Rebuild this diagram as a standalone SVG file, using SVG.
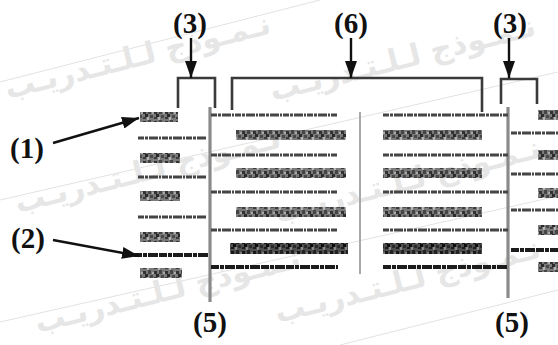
<svg xmlns="http://www.w3.org/2000/svg" width="558" height="345" viewBox="0 0 558 345">
<style>
.wm{font-family:"DejaVu Sans",sans-serif;font-weight:bold;font-size:30px;fill:#e6e6e6;text-anchor:middle}
.wl{stroke:#e2e2e2;stroke-width:1;fill:none}
.lbl{font-family:"Liberation Serif","Times New Roman",serif;font-weight:bold;font-size:29px;fill:#111;text-anchor:middle}
.br{fill:none;stroke:#3a3a3a;stroke-width:2.6}
.ar{stroke:#111;stroke-width:2.4;fill:none}
.vl{stroke:#8a8a8a;stroke-width:3.2}
.dv{stroke:#a8a8a8;stroke-width:2}
.tl{stroke:#444;stroke-width:3.2;stroke-dasharray:6 1 3 1 9 1 2 1}
.tk{stroke:#1e1e1e;stroke-width:4.2;stroke-dasharray:8 1 4 1 10 1}
.bl{fill:url(#mot)}
.bd{fill:url(#mot2)}
</style>
<defs>
<marker id="ah" viewBox="0 0 17 12" refX="17" refY="6" markerWidth="17" markerHeight="12" markerUnits="userSpaceOnUse" orient="auto">
<path d="M0,0 L17,6 L0,12 Z" fill="#111"/>
</marker>
<pattern id="mot" width="11" height="10" patternUnits="userSpaceOnUse">
<rect width="11" height="10" fill="#7a7a7a"/>
<rect x="0" y="1" width="3" height="3" fill="#333"/>
<rect x="5" y="0" width="3" height="4" fill="#444"/>
<rect x="2" y="4" width="3" height="3" fill="#2a2a2a"/>
<rect x="7" y="5" width="3" height="3" fill="#4a4a4a"/>
<rect x="4" y="7" width="2" height="3" fill="#b4b4b4"/>
<rect x="9" y="2" width="2" height="2" fill="#aaa"/>
<rect x="0" y="7" width="3" height="2" fill="#3c3c3c"/>
</pattern>
<pattern id="mot2" width="11" height="10" patternUnits="userSpaceOnUse">
<rect width="11" height="10" fill="#505050"/>
<rect x="0" y="1" width="3" height="3" fill="#151515"/>
<rect x="5" y="0" width="3" height="4" fill="#222"/>
<rect x="2" y="4" width="3" height="3" fill="#111"/>
<rect x="7" y="5" width="3" height="3" fill="#2a2a2a"/>
<rect x="4" y="7" width="2" height="3" fill="#888"/>
<rect x="9" y="2" width="2" height="2" fill="#7a7a7a"/>
<rect x="0" y="7" width="3" height="2" fill="#1a1a1a"/>
</pattern>
<filter id="soft" x="-5%" y="-5%" width="110%" height="110%">
<feGaussianBlur stdDeviation="0.7"/>
</filter>
</defs>
<rect width="558" height="345" fill="#ffffff"/>
<g id="watermark">
<line class="wl" x1="0" y1="82" x2="320" y2="0"/>
<line class="wl" x1="0" y1="200" x2="558" y2="72"/>
<line class="wl" x1="0" y1="322" x2="558" y2="196"/>
<line class="wl" x1="340" y1="345" x2="558" y2="290"/>
<text class="wm" transform="translate(140,66) rotate(-14)">نـمـوذج لـلـتـدريـب</text>
<text class="wm" transform="translate(405,68) rotate(-14)">نـمـوذج لـلـتـدريـب</text>
<text class="wm" transform="translate(150,180) rotate(-14)">نـمـوذج لـلـتـدريـب</text>
<text class="wm" transform="translate(410,190) rotate(-14)">نـمـوذج لـلـتـدريـب</text>
<text class="wm" transform="translate(170,300) rotate(-14)">نـمـوذج لـلـتـدريـب</text>
<text class="wm" transform="translate(410,290) rotate(-14)">نـمـوذج لـلـتـدريـب</text>
</g>
<g id="document" filter="url(#soft)">
<line class="vl" x1="210" y1="107" x2="210" y2="302"/>
<line class="vl" x1="508" y1="107" x2="508" y2="298"/>
<line class="dv" x1="360" y1="112" x2="360" y2="274"/>
<rect class="bl" x="140" y="112" width="38" height="10"/>
<line class="tl" x1="138" y1="138" x2="207" y2="138"/>
<rect class="bl" x="140" y="153" width="40" height="10"/>
<line class="tl" x1="138" y1="177" x2="207" y2="177"/>
<rect class="bl" x="140" y="191" width="40" height="10"/>
<line class="tl" x1="138" y1="217" x2="207" y2="217"/>
<rect class="bl" x="140" y="232" width="40" height="10"/>
<line class="tk" x1="134" y1="255" x2="208" y2="255"/>
<rect class="bl" x="140" y="268" width="42" height="10"/>
<line class="tl" x1="211" y1="115" x2="338" y2="115"/>
<line class="tl" x1="383" y1="115" x2="508" y2="115"/>
<rect class="bl" x="236" y="130" width="110" height="10"/>
<rect class="bl" x="383" y="130" width="99" height="10"/>
<line class="tl" x1="211" y1="155" x2="338" y2="155"/>
<line class="tl" x1="383" y1="155" x2="508" y2="155"/>
<rect class="bl" x="236" y="168" width="110" height="10"/>
<rect class="bl" x="383" y="168" width="99" height="10"/>
<line class="tl" x1="211" y1="192" x2="338" y2="192"/>
<line class="tl" x1="383" y1="192" x2="508" y2="192"/>
<rect class="bl" x="236" y="207" width="110" height="10"/>
<rect class="bl" x="383" y="207" width="99" height="10"/>
<line class="tl" x1="211" y1="230" x2="338" y2="230"/>
<line class="tl" x1="383" y1="230" x2="508" y2="230"/>
<rect class="bd" x="230" y="243" width="118" height="11"/>
<rect class="bd" x="383" y="243" width="99" height="11"/>
<line class="tk" x1="211" y1="267" x2="338" y2="267"/>
<line class="tk" x1="383" y1="267" x2="508" y2="267"/>
<rect class="bl" x="538" y="110" width="20" height="10"/>
<line class="tl" x1="511" y1="133" x2="558" y2="133"/>
<rect class="bl" x="538" y="150" width="20" height="10"/>
<line class="tl" x1="511" y1="174" x2="558" y2="174"/>
<rect class="bl" x="538" y="188" width="20" height="10"/>
<line class="tl" x1="511" y1="210" x2="558" y2="210"/>
<rect class="bl" x="538" y="225" width="20" height="10"/>
<line class="tk" x1="511" y1="250" x2="558" y2="250"/>
<rect class="bl" x="538" y="262" width="20" height="10"/>
</g>
<g id="bracket-3-left"><path class="br" d="M178,108 V78 H215 V108"/></g>
<g id="bracket-6"><path class="br" d="M232,110 V78 H482 V112"/></g>
<g id="bracket-3-right"><path class="br" d="M501,104 V79 H537 V104"/></g>
<g id="label-3-left"><text class="lbl" x="190" y="33">(3)</text></g>
<g id="label-6"><text class="lbl" x="351" y="33">(6)</text></g>
<g id="label-3-right"><text class="lbl" x="510" y="33">(3)</text></g>
<g id="label-1"><text class="lbl" x="27" y="158">(1)</text></g>
<g id="label-2"><text class="lbl" x="28" y="248">(2)</text></g>
<g id="label-5-left"><text class="lbl" x="210" y="332">(5)</text></g>
<g id="label-5-right"><text class="lbl" x="512" y="332">(5)</text></g>
<g id="connectors">
<line class="ar" x1="191" y1="38" x2="191" y2="78" marker-end="url(#ah)"/>
<line class="ar" x1="351" y1="38" x2="351" y2="78" marker-end="url(#ah)"/>
<line class="ar" x1="509" y1="38" x2="509" y2="78" marker-end="url(#ah)"/>
<line class="ar" x1="53" y1="143" x2="139" y2="118" marker-end="url(#ah)"/>
<line class="ar" x1="53" y1="240" x2="139" y2="256" marker-end="url(#ah)"/>
</g>
</svg>
